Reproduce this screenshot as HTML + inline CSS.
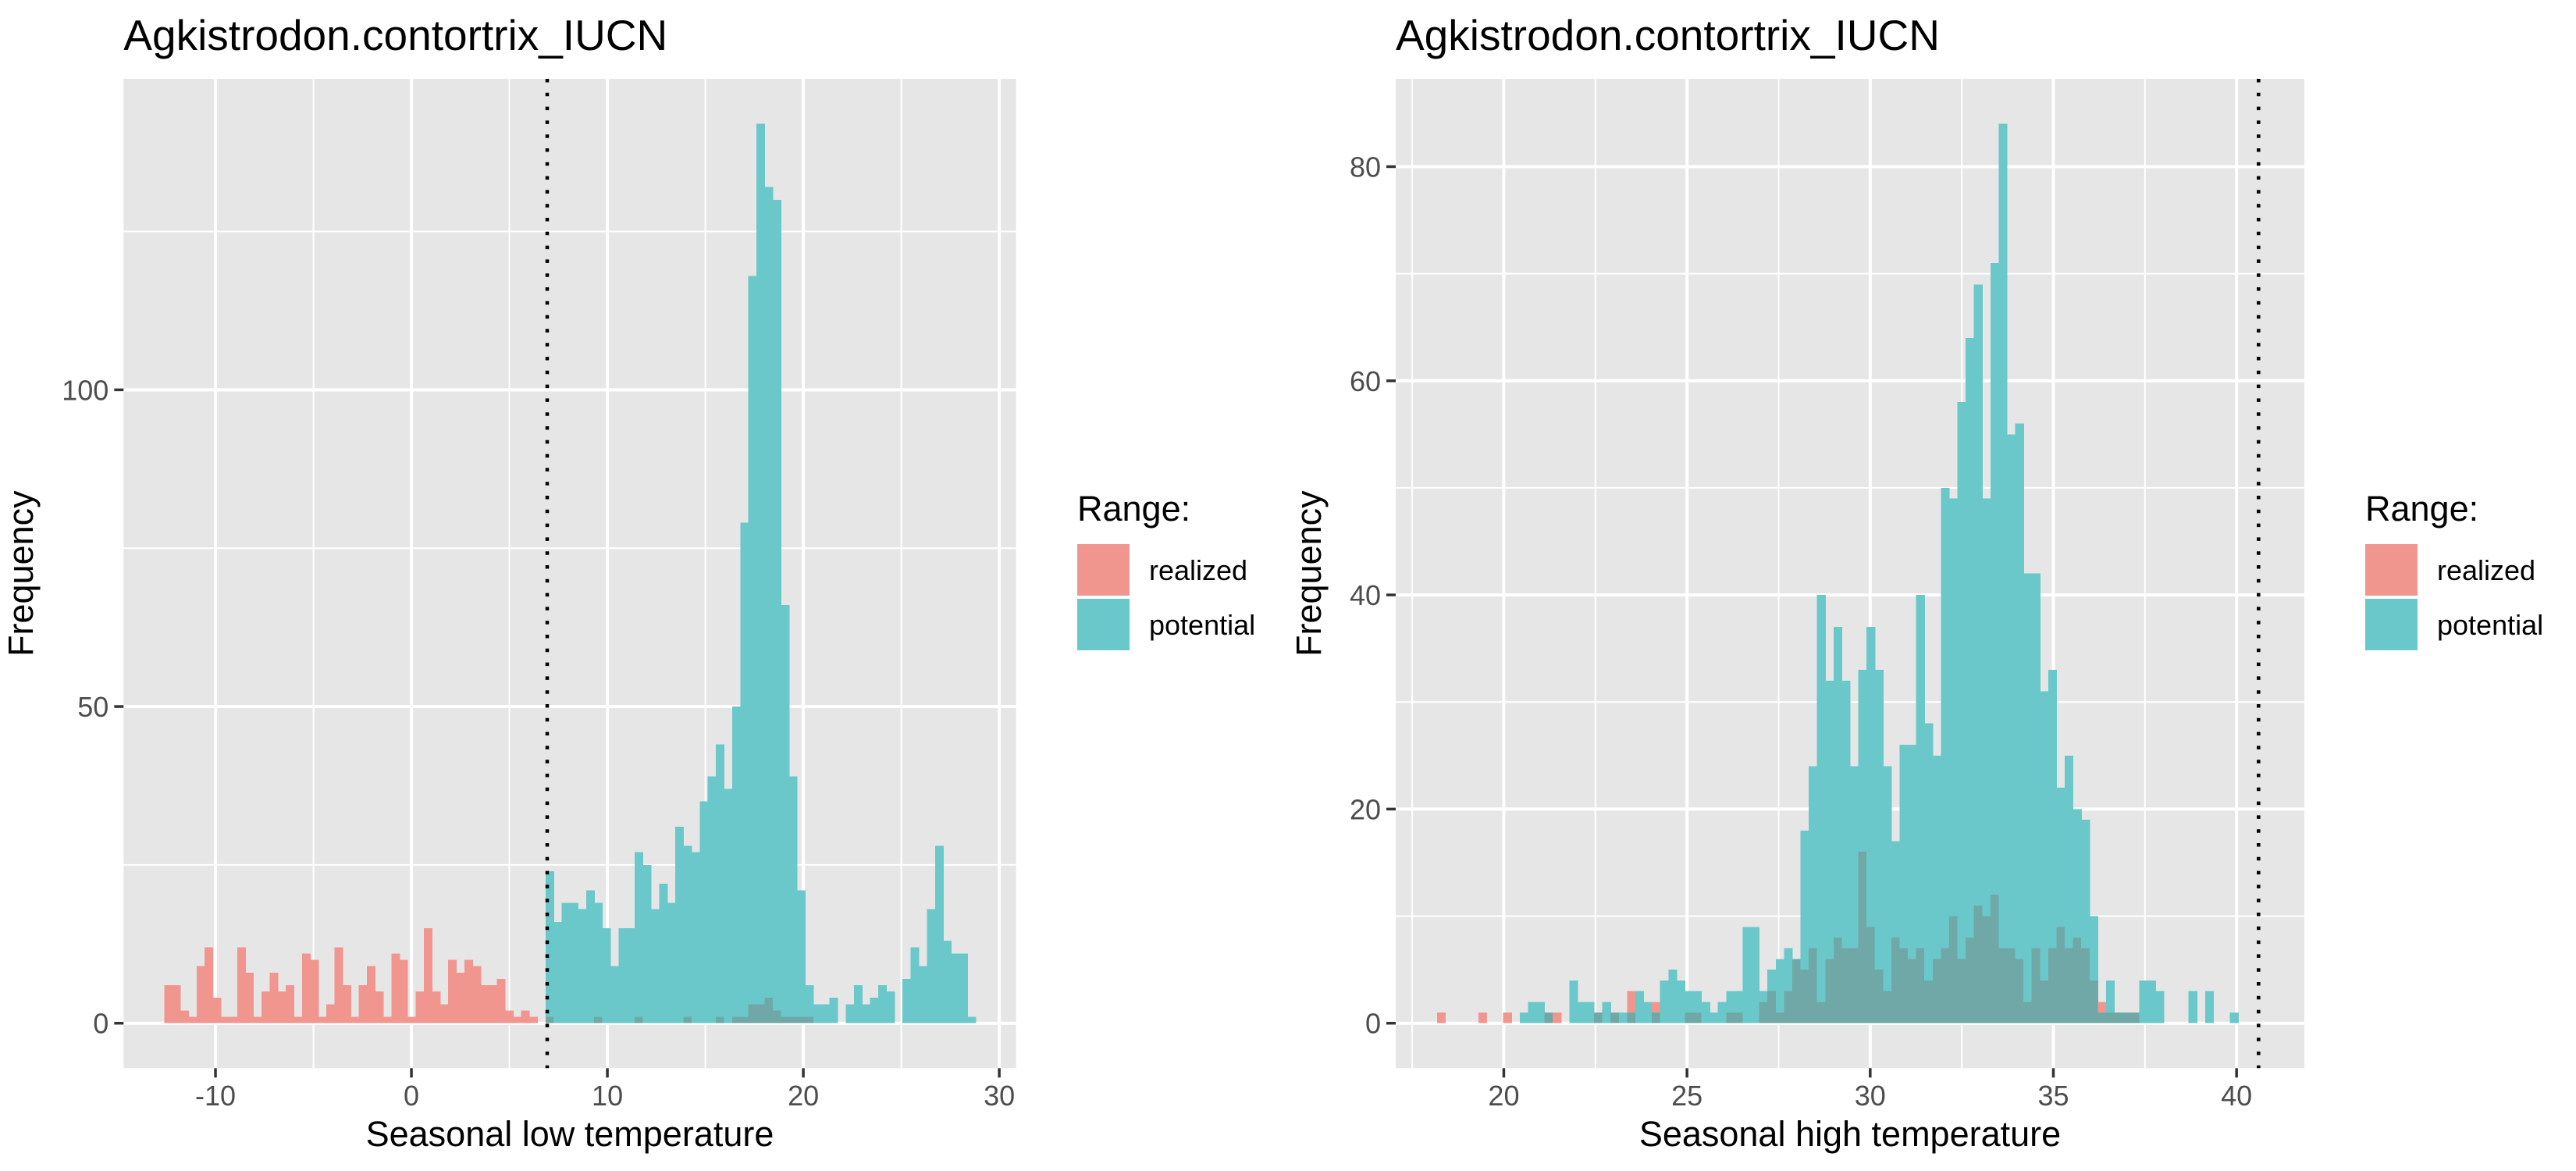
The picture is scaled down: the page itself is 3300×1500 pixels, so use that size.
<!DOCTYPE html>
<html><head><meta charset="utf-8">
<style>
html,body{margin:0;padding:0;background:#fff;}
svg{display:block;font-family:"Liberation Sans",Arial,sans-serif;}
</style></head>
<body>
<svg id="fig" width="3300" height="1500" viewBox="0 0 3300 1500" xmlns="http://www.w3.org/2000/svg">
<rect width="3300" height="1500" fill="#fff"/>
</svg>
<script>
// ---- Left chart data (seasonal low temperature) ----
const lowBinStart = -12.62;
const lowBinWidth = 0.4141;
const lowRealized = [6,6,2,1,9,12,4,1,1,12,8,1,5,8,5,6,1,11,10,1,3,12,6,1,6,9,5,1,11,10,1,5,15,5,3,10,8,10,9,6,6,7,2,1,2,1,0,1,0,0,0,0,0,1,0,0,0,0,1,0,0,0,0,0,1,0,0,0,1,0,1,1,3,3,4,2,1,1,1,1,0,0,0,0,0,0,0,0,0,0,0,0,0,0,0,0,0,0,0,0];
const lowPotential = [0,0,0,0,0,0,0,0,0,0,0,0,0,0,0,0,0,0,0,0,0,0,0,0,0,0,0,0,0,0,0,0,0,0,0,0,0,0,0,0,0,0,0,0,0,0,0,24,16,19,19,18,21,19,15,9,15,15,27,25,18,22,19,31,28,27,35,39,44,37,50,79,118,142,132,130,66,39,21,6,3,3,4,0,3,6,3,4,6,5,0,7,12,9,18,28,13,11,11,1];
const lowXTicks = [-10,0,10,20,30];
const lowXMinor = [-5,5,15,25];
const lowYTicks = [0,50,100];
const lowYMinor = [25,75,125];
const lowVline = 6.93;

// ---- Right chart data (seasonal high temperature) ----
const highBinStart = 18.18;
const highBinWidth = 0.2254;
const highRealized = [1,0,0,0,0,1,0,0,1,0,0,0,0,1,1,0,0,0,0,1,0,1,0,3,0,0,2,0,0,0,1,1,0,0,0,1,1,0,0,2,3,1,3,6,5,7,2,6,8,7,7,16,9,5,3,8,7,6,7,4,6,7,10,6,8,11,10,12,7,7,6,2,7,4,7,9,7,8,7,4,2,1,1,1,1,0,0,0,0,0,0,0,0,0,0,0,0];
const highPotential = [0,0,0,0,0,0,0,0,0,0,1,2,2,1,0,0,4,2,2,1,2,1,1,1,3,2,1,4,5,4,3,3,2,1,2,3,3,9,9,3,5,6,7,6,18,24,40,32,37,32,24,33,37,33,24,17,26,26,40,28,25,50,49,58,64,69,49,71,84,55,56,42,42,31,33,22,25,20,19,10,1,4,1,1,1,4,4,3,0,0,0,3,0,3,0,0,1];
const highXTicks = [20,25,30,35,40];
const highXMinor = [17.5,22.5,27.5,32.5,37.5];
const highYTicks = [0,20,40,60,80];
const highYMinor = [10,30,50,70];
const highVline = 40.6;

const NS = "http://www.w3.org/2000/svg";
const svg = document.getElementById('fig');
const C_REAL = "#F0968F", C_POT = "#6BC8CA", C_OVER = "#6FA8A6";

function mk(tag, attrs, parent){
  const e = document.createElementNS(NS, tag);
  for (const k in attrs) e.setAttribute(k, attrs[k]);
  (parent||svg).appendChild(e);
  return e;
}

function drawPanel(cfg){
  const g = mk('g', {});
  
  
  const {x0,x1,y0,y1,xmin,xmax,ymin,ymax} = cfg;
  const sx = v => x0 + (v - xmin) / (xmax - xmin) * (x1 - x0);
  const sy = v => y1 - (v - ymin) / (ymax - ymin) * (y1 - y0);
  const bg = mk('rect', {x:x0, y:y0, width:x1-x0, height:y1-y0, fill:'#E6E6E6'}, g);
  
  
  cfg.yMinor.forEach(v => { const l = mk('line',{x1:x0,x2:x1,y1:sy(v),y2:sy(v),stroke:'#fff','stroke-width':2},g);
      });
  cfg.xMinor.forEach(v => { const l = mk('line',{x1:sx(v),x2:sx(v),y1:y0,y2:y1,stroke:'#fff','stroke-width':2},g);
      });
  cfg.yTicks.forEach(v => { const l = mk('line',{x1:x0,x2:x1,y1:sy(v),y2:sy(v),stroke:'#fff','stroke-width':4},g);
      });
  cfg.xTicks.forEach(v => { const l = mk('line',{x1:sx(v),x2:sx(v),y1:y0,y2:y1,stroke:'#fff','stroke-width':4},g);
      });
  const n = Math.max(cfg.real.length, cfg.pot.length);
  for (let i = 0; i < n; i++){
    const a = cfg.start + i*cfg.width, b = a + cfg.width;
    const xa = sx(a), xb = sx(b) + 0.6;
    const r = cfg.real[i]||0, p = cfg.pot[i]||0;
    if (p > 0){
      const rc = mk('rect',{x:xa,y:sy(p),width:xb-xa,height:sy(0)-sy(p),fill:C_POT,'shape-rendering':'crispEdges'},g);
      
      
    }
    if (r > 0){
      const rc = mk('rect',{x:xa,y:sy(r),width:xb-xa,height:sy(0)-sy(r),fill:C_REAL,'shape-rendering':'crispEdges'},g);
      
      
    }
    const m = Math.min(r,p);
    if (m > 0){
      const rc = mk('rect',{x:xa,y:sy(m),width:xb-xa,height:sy(0)-sy(m),fill:C_OVER,'shape-rendering':'crispEdges'},g);
      
      
    }
  }
  const vl = mk('line',{x1:sx(cfg.vline),x2:sx(cfg.vline),y1:y0,y2:y1,stroke:'#000','stroke-width':4.5,'stroke-dasharray':'4.5 13.3'},g);
  
  
  cfg.xTicks.forEach(v => {
    const t = mk('line',{x1:sx(v),x2:sx(v),y1:y1,y2:y1+12,stroke:'#333','stroke-width':3.5},g);
     
    const tx = mk('text',{x:sx(v),y:1416,'font-size':36,fill:'#4D4D4D','text-anchor':'middle'},g);
    tx.textContent = String(v);
     
  });
  cfg.yTicks.forEach(v => {
    const t = mk('line',{x1:x0-12,x2:x0,y1:sy(v),y2:sy(v),stroke:'#333','stroke-width':3.5},g);
     
    const tx = mk('text',{x:x0-19,y:sy(v)+13,'font-size':36,fill:'#4D4D4D','text-anchor':'end'},g);
    tx.textContent = String(v);
     
  });
  const xt = mk('text',{x:(x0+x1)/2,y:1468,'font-size':45,fill:'#000','text-anchor':'middle'},g);
  xt.textContent = cfg.xTitle;
   
  const yt = mk('text',{x:0,y:0,'font-size':45,fill:'#000','text-anchor':'middle',transform:`translate(${cfg.yTitleX},${(y0+y1)/2}) rotate(-90)`},g);
  yt.textContent = 'Frequency';
   
  const tt = mk('text',{x:x0,y:64,'font-size':55,fill:'#000'},g);
  tt.textContent = 'Agkistrodon.contortrix_IUCN';
   
  const lg = mk('g',{},g);
   
  const lx = cfg.legendX;
  const lt = mk('text',{x:lx,y:667,'font-size':45,fill:'#000'},lg);
  lt.textContent = 'Range:';
   
  [['realized',C_REAL,697],['potential',C_POT,767]].forEach(([lab,col,ky]) => {
    const k = mk('rect',{x:lx,y:ky,width:67,height:66,fill:col},lg);
     
    const t = mk('text',{x:lx+92,y:ky+46,'font-size':36,fill:'#000'},lg);
    t.textContent = lab;
     
  });
}

drawPanel({name:'low-temperature', x0:158.3, x1:1301.7, y0:101, y1:1368.3,
  xmin:-14.69, xmax:30.86, ymin:-7.1, ymax:149.1,
  start:lowBinStart, width:lowBinWidth, real:lowRealized, pot:lowPotential,
  xTicks:lowXTicks, xMinor:lowXMinor, yTicks:lowYTicks, yMinor:lowYMinor, vline:lowVline,
  xTitle:'Seasonal low temperature', yTitleX:42, legendX:1380});
drawPanel({name:'high-temperature', x0:1788, x1:2952, y0:101, y1:1368.3,
  xmin:17.05, xmax:41.85, ymin:-4.2, ymax:88.2,
  start:highBinStart, width:highBinWidth, real:highRealized, pot:highPotential,
  xTicks:highXTicks, xMinor:highXMinor, yTicks:highYTicks, yMinor:highYMinor, vline:highVline,
  xTitle:'Seasonal high temperature', yTitleX:1692, legendX:3030});
</script>
</body></html>
